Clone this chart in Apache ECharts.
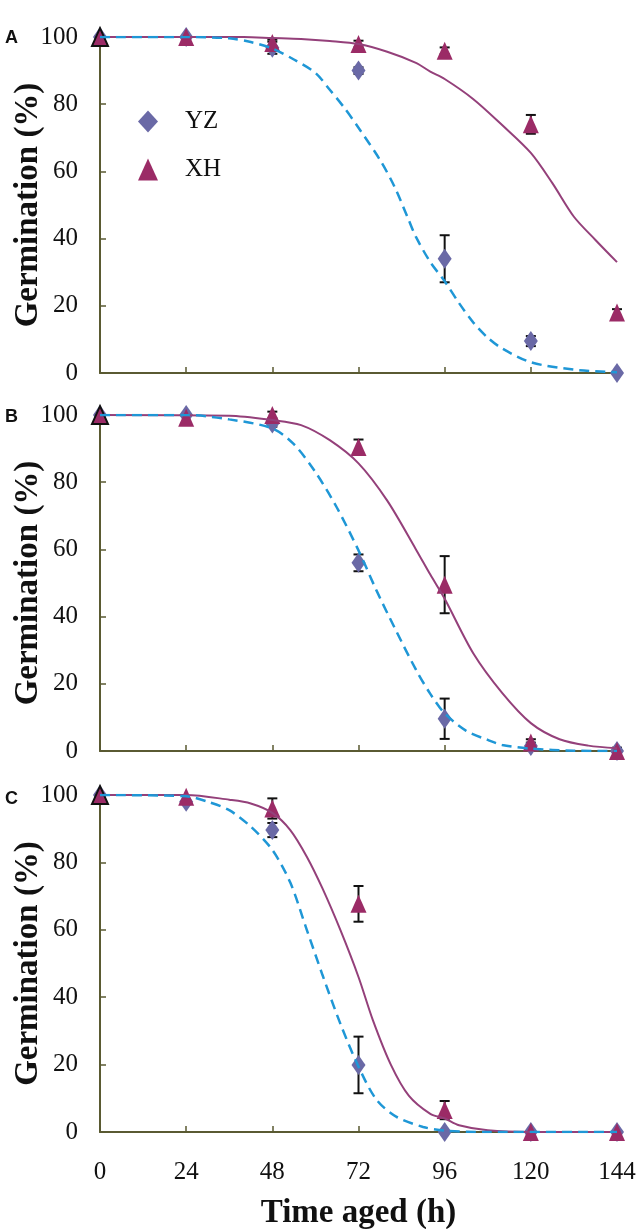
<!DOCTYPE html>
<html>
<head>
<meta charset="utf-8">
<script src="https://cdn.jsdelivr.net/npm/echarts@6/dist/echarts.min.js"></script>
<style>
html,body{margin:0;padding:0;background:#fff;}
#chart{width:640px;height:1229px;}
</style>
</head>
<body>
<div id="chart"></div>
<script>
// ---- data ----
const xTicks = [0, 24, 48, 72, 96, 120, 144];
const panelLabels = ['A', 'B', 'C'];
const seriesNames = ['YZ', 'XH'];

// observed means
const A_YZ = [100, 100, 96.8, 90, 34, 9.5, 0];
const A_YZ_err = [0, 0, 1.8, 1, 7, 1.5, 0];
const A_XH = [100, 100, 98.2, 97.9, 95.9, 74, 18];
const A_XH_err = [0, 0, 1, 1, 1, 2.8, 1];

const B_YZ = [100, 100, 97.5, 56, 9.6, 1.5, 0];
const B_YZ_err = [0, 0, 1, 2.5, 6, 1, 0];
const B_XH = [100, 99.2, 100, 90.5, 49.5, 2.5, 0];
const B_XH_err = [0, 0, 1, 2.2, 8.5, 1, 1];

const C_YZ = [100, 98, 89.6, 19.9, 0, 0, 0];
const C_YZ_err = [0, 0, 2.1, 8.4, 0, 0, 0];
const C_XH = [100, 99.5, 96, 67.7, 6.5, 0, 0];
const C_XH_err = [0, 0, 3, 5.3, 2.7, 0, 0];

// fitted curves [time, germination]
const fitA_YZ = [[0,100],[24,100],[36,99.6],[42,98.5],[48,96.6],[54,93.3],[60,89.3],[64,84.3],[68,79],[72,73],[78,63.4],[82,55.5],[86,45.5],[88,40.5],[92,33],[96,27.3],[100,20.8],[104,15],[108,10.5],[112,7.3],[120,3.2],[132,1],[144,0.2]];
const fitA_XH = [[0,100],[24,100],[40,100],[48,99.7],[56,99.4],[64,98.8],[72,97.9],[80,95.6],[88,92.3],[92,89.7],[96,87.5],[104,81.5],[112,73.8],[120,65.5],[126,56.5],[132,46.5],[138,39.6],[144,33]];

const fitB_YZ = [[0,100],[24,100],[36,98.7],[48,96],[54,91.3],[60,83],[66,72.4],[72,59.7],[77,47.8],[82,36.8],[88,24.2],[92,17],[96,11.2],[102,6],[108,3.3],[112,1.8],[120,0.7],[132,0.1],[144,0]];
const fitB_XH = [[0,100],[36,99.8],[48,98.5],[56,97],[64,92.5],[72,85.6],[80,74.5],[88,60],[92,52.5],[96,45.3],[104,29],[112,17.3],[120,8.3],[128,3.5],[136,1.6],[144,0.8]];

const fitC_YZ = [[0,100],[24,99.6],[30,98],[36,95.5],[42,90.6],[48,83.7],[53,74],[57.6,60],[62,46.5],[67,32],[72,19.4],[77,9.6],[82.6,4.5],[90,1.5],[96,0.4],[108,0],[144,0]];
const fitC_XH = [[0,100],[24,100],[36,98.6],[42,97.5],[48,94.7],[53,89.6],[57.6,81.7],[62,72.2],[67,59.8],[72,46],[76,33.2],[81,20],[86,10.8],[92,5.4],[96,4],[100,2],[108,0.5],[120,0],[144,0]];

// ---- layout / style ----
const grids = [
  {left: 100, right: 23, top: 37, height: 336, outerBoundsMode: 'none', containLabel: false},
  {left: 100, right: 23, top: 415, height: 336, outerBoundsMode: 'none', containLabel: false},
  {left: 100, right: 23, top: 795, height: 337, outerBoundsMode: 'none', containLabel: false}
];
const serif = "'Liberation Serif','Times New Roman',serif";
const axisColor = '#5a5a32';
const colYZ = '#6a69a6';
const colXH = '#9b2b66';
const colFitXH = '#94407a';
const colFitYZ = '#1f97d6';

const panels = [
  {yz: A_YZ, yzErr: A_YZ_err, xh: A_XH, xhErr: A_XH_err, fYZ: fitA_YZ, fXH: fitA_XH},
  {yz: B_YZ, yzErr: B_YZ_err, xh: B_XH, xhErr: B_XH_err, fYZ: fitB_YZ, fXH: fitB_XH},
  {yz: C_YZ, yzErr: C_YZ_err, xh: C_XH, xhErr: C_XH_err, fYZ: fitC_YZ, fXH: fitC_XH}
];

function errRender(params, api) {
  const x = api.value(0), y = api.value(1), e = api.value(2);
  if (!e) return null;
  const top = api.coord([x, y + e]);
  const bot = api.coord([x, y - e]);
  const w = 5;
  const st = {stroke: '#111', lineWidth: 2};
  return {
    type: 'group',
    children: [
      {type: 'line', shape: {x1: top[0], y1: top[1], x2: bot[0], y2: bot[1]}, style: st},
      {type: 'line', shape: {x1: top[0]-w, y1: top[1], x2: top[0]+w, y2: top[1]}, style: st},
      {type: 'line', shape: {x1: bot[0]-w, y1: bot[1], x2: bot[0]+w, y2: bot[1]}, style: st}
    ]
  };
}

const xAxes = [], yAxes = [], series = [];
panels.forEach((p, i) => {
  const last = i === 2;
  xAxes.push({
    type: 'value', gridIndex: i, min: 0, max: 144, interval: 24,
    axisLine: {show: true, onZero: false, lineStyle: {color: axisColor, width: 2}},
    axisTick: {show: true, inside: true, length: 6, lineStyle: {color: axisColor, width: 1.5}},
    axisLabel: {show: last, margin: 28, fontFamily: serif, fontSize: 25, color: '#111'},
    splitLine: {show: false},
    name: last ? 'Time aged (h)' : '',
    nameLocation: 'middle', nameGap: 65, nameMoveOverlap: false,
    nameTextStyle: {fontFamily: serif, fontWeight: 'bold', fontSize: 33, color: '#111'}
  });
  yAxes.push({
    type: 'value', gridIndex: i, min: 0, max: 100, interval: 20,
    axisLine: {show: true, onZero: false, lineStyle: {color: axisColor, width: 2}},
    axisTick: {show: true, inside: true, length: 6, lineStyle: {color: axisColor, width: 1.5}},
    axisLabel: {margin: 22, fontFamily: serif, fontSize: 25, color: '#111'},
    splitLine: {show: false},
    name: 'Germination (%)', nameLocation: 'middle', nameGap: 55, nameMoveOverlap: false,
    nameTextStyle: {fontFamily: serif, fontWeight: 'bold', fontSize: 33, color: '#111'}
  });
  const errData = [];
  xTicks.forEach((t, k) => {
    errData.push([t, p.yz[k], p.yzErr[k]]);
    errData.push([t, p.xh[k], p.xhErr[k]]);
  });
  series.push({
    type: 'custom', xAxisIndex: i, yAxisIndex: i, data: errData,
    renderItem: errRender, z: 2, silent: true, clip: false
  });
  series.push({
    name: 'YZ', type: 'scatter', xAxisIndex: i, yAxisIndex: i, z: 3, clip: false,
    symbol: 'diamond', symbolSize: [14, 20],
    itemStyle: {color: colYZ, opacity: 1},
    data: xTicks.map((t, k) => [t, p.yz[k]])
  });
  series.push({
    name: 'XH', type: 'scatter', xAxisIndex: i, yAxisIndex: i, z: 4, clip: false,
    symbol: 'triangle', symbolSize: [16, 18],
    itemStyle: {color: colXH, opacity: 1},
    data: xTicks.map((t, k) => k === 0
      ? {value: [t, p.xh[k]], itemStyle: {borderColor: '#111', borderWidth: 2}}
      : [t, p.xh[k]])
  });
  series.push({
    name: 'fitXH', type: 'line', xAxisIndex: i, yAxisIndex: i, z: 5,
    symbol: 'none', smooth: 0.3, silent: true,
    lineStyle: {color: colFitXH, width: 2},
    data: p.fXH
  });
  series.push({
    name: 'fitYZ', type: 'line', xAxisIndex: i, yAxisIndex: i, z: 6,
    symbol: 'none', smooth: 0.3, silent: true,
    lineStyle: {color: colFitYZ, width: 2.5, type: [10, 6]},
    data: p.fYZ
  });
});

const letterTops = [29, 408, 790];
const graphics = panelLabels.map((l, i) => ({
  type: 'text', left: 5, top: letterTops[i],
  style: {text: l, font: "bold 18px 'Liberation Sans', Arial, sans-serif", fill: '#111'}
}));

const chart = echarts.init(document.getElementById('chart'), null, {renderer: 'canvas'});
chart.setOption({
  backgroundColor: '#fff',
  animation: false,
  grid: grids,
  xAxis: xAxes,
  yAxis: yAxes,
  legend: {
    data: seriesNames, left: 133, top: 104, orient: 'vertical',
    itemWidth: 20, itemHeight: 22, itemGap: 23,
    selectedMode: false,
    textStyle: {fontFamily: serif, fontSize: 25, color: '#111', padding: [0, 0, 0, 22]}
  },
  graphic: graphics,
  series: series
});
</script>
</body>
</html>
